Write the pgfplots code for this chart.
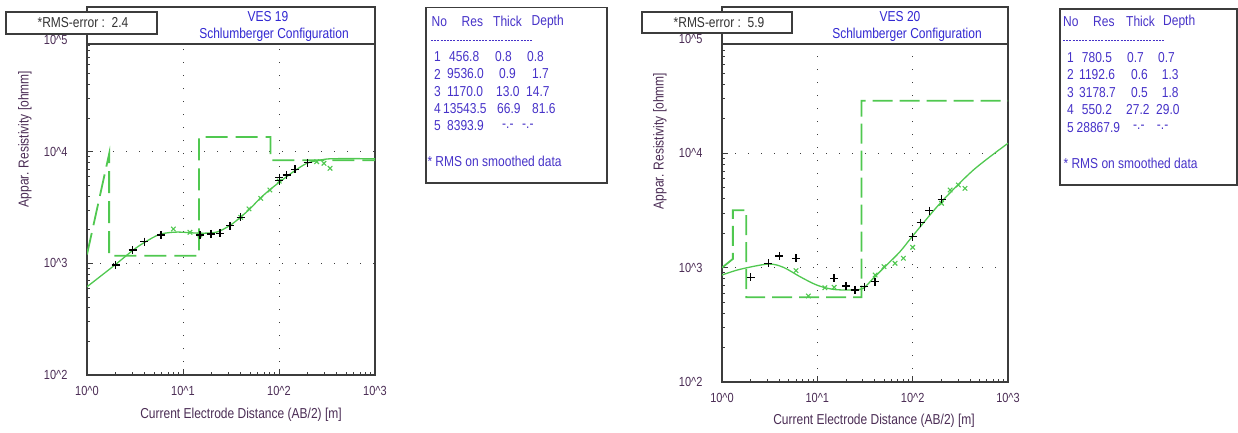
\documentclass[border=0pt]{standalone}
\usepackage{pgfplots}
\pgfplotsset{compat=1.18}
\usepackage{fontspec}
\setmainfont{Liberation Sans}
\definecolor{lgreen}{RGB}{80,200,80}
\definecolor{labcol}{RGB}{75,45,85}
\definecolor{titcol}{RGB}{50,40,210}
\definecolor{tabcol}{RGB}{70,50,200}
\definecolor{framecol}{RGB}{60,60,60}
\newcommand{\tw}{\fontsize{12}{14}\selectfont}
\newcommand{\T}[1]{\scalebox{1}[1.2]{#1}}
\newcommand{\ca}{\textasciicircum}
\newcommand{\tl}[1]{\scalebox{1}[1.2]{10\ca#1}}
\pgfplotsset{
  every axis/.append style={
  scale only axis,
  axis line style={framecol, line width=1.2pt},
  tick pos=left, tick align=inside,
  major tick length=6pt, minor tick length=3pt,
  tick style={framecol, line width=0.9pt},
  grid=major,
  major grid style={framecol, line width=1pt, dash pattern=on 1.4pt off 11.6pt},
  ticklabel style={font=\fontsize{11}{13}\selectfont, text=labcol},
  yticklabel style={xshift=-16pt},
  xticklabel style={yshift=-8pt},
  xmode=log, ymode=log, xmin=1, xmax=1000, ymin=100, ymax=100000,
  xtick={1,10,100,1000}, xticklabels={\tl0,\tl1,\tl2,\tl3},
  ytick={100,1000,10000,100000}, yticklabels={\tl2,\tl3,\tl4,\tl5},
  minor xtick={2,3,4,5,6,7,8,9,20,30,40,50,60,70,80,90,200,300,400,500,600,700,800,900},
  minor ytick={200,300,400,500,600,700,800,900,2000,3000,4000,5000,6000,7000,8000,9000,20000,30000,40000,50000,60000,70000,80000,90000},
  }
}
\begin{document}
\begin{tikzpicture}[x=1pt,y=1pt]
\path[use as bounding box] (0,0) rectangle (1238,-432);

% ---------------- LEFT: VES 19 ----------------
\begin{axis}[at={(87pt,-375pt)}, anchor=south west, width=288pt, height=335pt]
\addplot[lgreen, line width=1.8pt, dash pattern=on 22pt off 8pt] coordinates {
(1,1200)(1.7,9536)(1.7,1170)(14.7,1170)(14.7,13543.5)(81.6,13543.5)(81.6,8393.9)(1000,8393.9)};
\addplot[lgreen, line width=1.3pt, smooth] coordinates {
(1,617)(1.95,966)(3.04,1318)(4.02,1549)(5.75,1820)(8.6,1905)(15.0,1862)(22.4,1905)(30.9,2188)(39.3,2570)(50.1,3090)(63.1,3800)(80.5,4570)(102,5370)(141,6610)(195,7870)(269,8410)(363,8650)(1000,8650)};
\addplot[only marks, mark=x, mark size=3.2pt, lgreen, line width=1.1pt] coordinates {
(7.93,2030)(11.8,1895)(15,1794)(39.9,2582)(48.7,3069)(64.5,3822)(80.5,4536)(100.7,5450)(247,8130)(294,7870)(340,7100)};
\addplot[only marks, mark=+, mark size=4pt, black, line width=1.3pt] coordinates {
(1.99,966)(2.99,1316)(3.96,1563)(5.9,1794)(15.0,1794)(19.6,1832)(24.3,1857)(30.9,2173)(39.9,2582)(100.7,5500)(100.7,5850)(120,6180)(147,6950)(199,7960)};
\end{axis}

% ---------------- RIGHT: VES 20 ----------------
\begin{axis}[at={(722pt,-382pt)}, anchor=south west, width=286pt, height=343pt]
\addplot[lgreen, line width=1.8pt, dash pattern=on 20pt off 7pt] coordinates {
(1,1000)(1.3,1192.6)(1.3,3178.7)(1.8,3178.7)(1.8,550.2)(29,550.2)(29,28867.9)(1000,28867.9)};
\addplot[lgreen, line width=1.3pt, smooth] coordinates {
(1,863)(1.55,968)(3.06,1076)(4.4,1007)(6.58,834)(9.84,705)(14.7,646)(23.8,638)(30.3,659)(38.6,807)(53.3,1054)(73.6,1380)(102,1932)(194,3656)(433,7145)(1000,12250)};
\addplot[only marks, mark=x, mark size=3.2pt, lgreen, line width=1.1pt] coordinates {
(5.97,941)(8.05,565)(12.0,668)(15,673)(40.3,863)(50,1020)(65.3,1092)(79.8,1208)(100,1507)(201,3655)(247,4777)(301,5285)(354,4945)};
\addplot[only marks, mark=+, mark size=4pt, black, line width=1.3pt] coordinates {
(2.0,823)(3.06,1091)(3.99,1265)(5.97,1207)(14.96,807)(20.0,691)(24.8,638)(31.1,682)(40.3,754)(100,1866)(121,2475)(150,3152)(201,3963)};
\end{axis}

% ---------- axis labels ----------
\node[rotate=90, text=labcol, font=\tw] at (25,-139) {\T{Appar. Resistivity [ohmm]}};
\node[rotate=90, text=labcol, font=\tw] at (660,-141) {\T{Appar. Resistivity [ohmm]}};
\node[text=labcol, font=\tw] at (241,-415) {\T{Current Electrode Distance (AB/2) [m]}};
\node[text=labcol, font=\tw] at (874,-421) {\T{Current Electrode Distance (AB/2) [m]}};

% ---------- headers ----------
\draw[framecol, line width=1.2pt, fill=white] (87,-7) rectangle (375,-44);
\node[text=titcol, font=\tw] at (268,-17) {\T{VES 19}};
\node[text=titcol, font=\tw] at (274,-35) {\T{Schlumberger Configuration}};
\draw[framecol, line width=1.4pt, fill=white] (6,-12) rectangle (157,-34);
\node[text=black!80, font=\tw] at (83,-23) {\T{*RMS-error :\ \ 2.4}};

\draw[framecol, line width=1.2pt, fill=white] (722,-7) rectangle (1008,-44);
\node[text=titcol, font=\tw] at (900,-17) {\T{VES 20}};
\node[text=titcol, font=\tw] at (907,-35) {\T{Schlumberger Configuration}};
\draw[framecol, line width=1.4pt, fill=white] (642,-12) rectangle (792,-33);
\node[text=black!80, font=\tw] at (719,-23) {\T{*RMS-error :\ \ 5.9}};

% ---------- left table ----------
\draw[framecol, line width=1.4pt] (426,-7.5) rectangle (607,-183);
\begin{scope}[every node/.style={anchor=west, inner sep=0pt, text=tabcol, font=\tw}]
\node at (431.5,-21.7) {\T{No}};
\node at (461.5,-21.7) {\T{Res}};
\node at (493,-21.7) {\T{Thick}};
\node at (531.5,-21.7) {\T{Depth}};
\draw[tabcol, line width=0.6pt, dash pattern=on 2pt off 1.2pt] (431,-40) -- (533,-40);
\node at (434,-56.7) {\T{1}}; \node at (449,-56.7) {\T{456.8}}; \node at (495,-56.7) {\T{0.8}}; \node at (527,-56.7) {\T{0.8}};
\node at (434,-74) {\T{2}}; \node at (447,-74) {\T{9536.0}}; \node at (499,-74) {\T{0.9}}; \node at (532,-74) {\T{1.7}};
\node at (434,-91.3) {\T{3}}; \node at (447,-91.3) {\T{1170.0}}; \node at (496,-91.3) {\T{13.0}}; \node at (526,-91.3) {\T{14.7}};
\node at (434,-108.7) {\T{4}}; \node at (443,-108.7) {\T{13543.5}}; \node at (497,-108.7) {\T{66.9}}; \node at (532,-108.7) {\T{81.6}};
\node at (434,-126) {\T{5}}; \node at (447,-126) {\T{8393.9}}; \node at (502,-126) {\T{-.-}}; \node at (522,-126) {\T{-.-}};
\node at (427.3,-161.7) {\T{* RMS on smoothed data}};
\end{scope}

% ---------- right table ----------
\draw[framecol, line width=1.4pt] (1060,-9) rectangle (1237,-185);
\begin{scope}[every node/.style={anchor=west, inner sep=0pt, text=tabcol, font=\tw}]
\node at (1063,-21.7) {\T{No}};
\node at (1093,-21.7) {\T{Res}};
\node at (1126,-21.7) {\T{Thick}};
\node at (1163,-21.7) {\T{Depth}};
\draw[tabcol, line width=0.6pt, dash pattern=on 2pt off 1.2pt] (1063,-40) -- (1165,-40);
\node at (1067,-57.3) {\T{1}}; \node at (1081.7,-57.3) {\T{780.5}}; \node at (1127,-57.3) {\T{0.7}}; \node at (1158,-57.3) {\T{0.7}};
\node at (1067,-74.8) {\T{2}}; \node at (1079,-74.8) {\T{1192.6}}; \node at (1131,-74.8) {\T{0.6}}; \node at (1161.7,-74.8) {\T{1.3}};
\node at (1067,-92.3) {\T{3}}; \node at (1079,-92.3) {\T{3178.7}}; \node at (1131,-92.3) {\T{0.5}}; \node at (1161.7,-92.3) {\T{1.8}};
\node at (1067,-109.8) {\T{4}}; \node at (1081.7,-109.8) {\T{550.2}}; \node at (1126,-109.8) {\T{27.2}}; \node at (1156,-109.8) {\T{29.0}};
\node at (1067,-127.3) {\T{5}}; \node at (1076.5,-127.3) {\T{28867.9}}; \node at (1133,-127.3) {\T{-.-}}; \node at (1156.7,-127.3) {\T{-.-}};
\node at (1063.3,-163.3) {\T{* RMS on smoothed data}};
\end{scope}
\end{tikzpicture}
\end{document}
